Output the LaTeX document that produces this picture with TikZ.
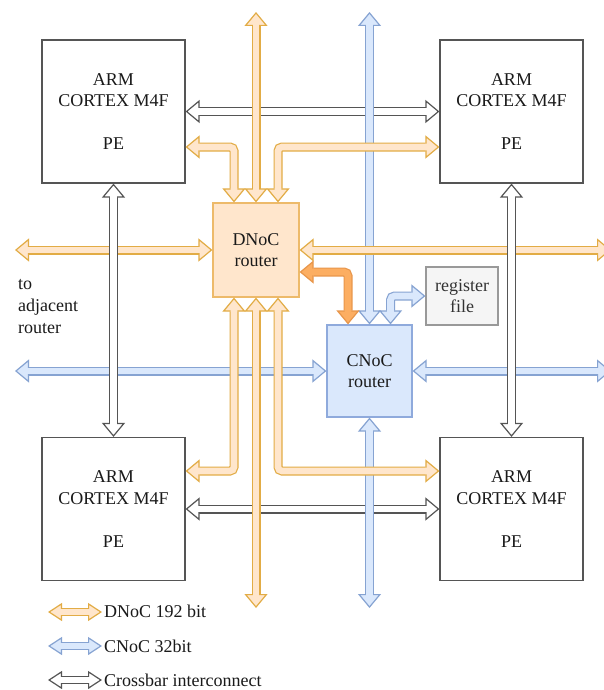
\documentclass[tikz,border=0pt]{standalone}
\usepackage{fontspec}
\setmainfont{Liberation Serif}
\usetikzlibrary{arrows.meta,calc}
\definecolor{ofill}{HTML}{FFE6CC}
\definecolor{oborder}{HTML}{E2AC45}
\definecolor{oboxb}{HTML}{EDBA6A}
\definecolor{bfill}{HTML}{DAE8FC}
\definecolor{bborder}{HTML}{86A3D2}
\definecolor{bboxb}{HTML}{8FAADC}
\definecolor{dfill}{HTML}{FCAE62}
\definecolor{dborder}{HTML}{E8964A}
\definecolor{xborder}{HTML}{555555}
\definecolor{pegray}{HTML}{555555}
\definecolor{regfill}{HTML}{F5F5F5}
\definecolor{regb}{HTML}{999999}
\definecolor{regtext}{HTML}{333333}
\definecolor{textc}{HTML}{1A1A1A}
\tikzset{
  flexbig/.style 2 args={line width=9pt, draw=#1, rounded corners=4pt,
    {Triangle[length=14pt,width=23pt,line width=1.2pt,fill=#2]}-{Triangle[length=14pt,width=23pt,line width=1.2pt,fill=#2]},
    postaction={draw=#2, line width=6.6pt, shorten <=12pt, shorten >=12pt, arrows=-}},
  flexsmall/.style 2 args={line width=8pt, draw=#1,
    {Triangle[length=14pt,width=18pt,line width=1.2pt,fill=#2]}-{Triangle[length=14pt,width=18pt,line width=1.2pt,fill=#2]},
    postaction={draw=#2, line width=5.6pt, shorten <=12pt, shorten >=12pt, arrows=-}},
  pebox/.style={draw=pegray, line width=1.2pt, fill=white, minimum width=143pt, minimum height=143pt, align=center, inner sep=0pt, text=textc},
  router/.style={line width=1.2pt, align=center, inner sep=0pt, text=textc},
  legtext/.style={anchor=base west, inner sep=0pt, text=textc},
}
\begin{document}
\begin{tikzpicture}[x=1pt,y=-1pt,font=\fontsize{18}{21.5}\selectfont]
\useasboundingbox[fill=white] (0,0) rectangle (603,690);

% nodes
\node[pebox] (pe1) at (113.5,111.5) {ARM\\CORTEX M4F\\[21.5pt]PE};
\node[pebox] (pe2) at (511.5,111.5) {ARM\\CORTEX M4F\\[21.5pt]PE};
\node[pebox] (pe3) at (113.5,509) {ARM\\CORTEX M4F\\[21.5pt]PE};
\node[pebox] (pe4) at (511.5,509) {ARM\\CORTEX M4F\\[21.5pt]PE};
\node[router, fill=ofill, draw=oboxb, minimum width=86pt, minimum height=94pt] (dnoc) at (256,250) {DNoC\\router};
\node[router, fill=bfill, draw=bboxb, minimum width=85pt, minimum height=92pt] (cnoc) at (369.5,371) {CNoC\\router};
\node[router, fill=regfill, draw=regb, text=regtext, minimum width=72pt, minimum height=58pt] (reg) at (462,296) {register\\file};
\node[anchor=north west, align=left, inner sep=0pt, text=textc, font=\fontsize{18}{22}\selectfont] (adj) at (18,279) {to\\adjacent\\router};

% free ends
\coordinate (oTop) at (256,12);
\coordinate (oBot) at (256,608);
\coordinate (oLeft) at (15,250);
\coordinate (oRight) at (611,250);
\coordinate (bTop) at (369.5,12);
\coordinate (bBot) at (369.5,608);
\coordinate (bLeft) at (15,371);
\coordinate (bRight) at (611,371);

% crossbar horizontals
\draw[flexbig={xborder}{white}] (pe1.east) -- (pe2.west);
\draw[flexbig={xborder}{white}] (pe3.east) -- (pe4.west);

% CNoC (blue)
\draw[flexbig={bborder}{bfill}] (cnoc.north) -- (bTop);
\draw[flexbig={bborder}{bfill}] (cnoc.south) -- (bBot);
\draw[flexbig={bborder}{bfill}] (bLeft) -- (cnoc.west);
\draw[flexbig={bborder}{bfill}] (cnoc.east) -- (bRight);
\draw[flexbig={bborder}{bfill}] (reg.west) -| ([xshift=21pt]cnoc.north);

% DNoC (orange)
\draw[flexbig={oborder}{ofill}] (dnoc.north) -- (oTop);
\draw[flexbig={oborder}{ofill}] ([xshift=-22pt]dnoc.north) |- ([yshift=-35.5pt]pe1.east);
\draw[flexbig={oborder}{ofill}] ([xshift=22pt]dnoc.north) |- ([yshift=-35.5pt]pe2.west);
\draw[flexbig={oborder}{ofill}] (oLeft) -- (dnoc.west);
\draw[flexbig={oborder}{ofill}] (dnoc.east) -- (oRight);
\draw[flexbig={oborder}{ofill}] ([xshift=-22pt]dnoc.south) |- ([yshift=38pt]pe3.east);
\draw[flexbig={oborder}{ofill}] (dnoc.south) -- (oBot);
\draw[flexbig={oborder}{ofill}] ([xshift=22pt]dnoc.south) |- ([yshift=38pt]pe4.west);
\draw[flexbig={dborder}{dfill}] ([yshift=-22pt]dnoc.east) -| ([xshift=-21.5pt]cnoc.north);

% crossbar verticals
\draw[flexbig={xborder}{white}] (pe1.south) -- (pe3.north);
\draw[flexbig={xborder}{white}] (pe2.south) -- (pe4.north);

% legend
\coordinate (l1a) at (48,612);
\coordinate (l1b) at (102,612);
\coordinate (l2a) at (48,646);
\coordinate (l2b) at (102,646);
\coordinate (l3a) at (48,680);
\coordinate (l3b) at (102,680);
\draw[flexsmall={oborder}{ofill}] (l1a) -- (l1b);
\draw[flexsmall={bborder}{bfill}] (l2a) -- (l2b);
\draw[flexsmall={xborder}{white}] (l3a) -- (l3b);
\node[legtext] (t1) at (104,617.5) {DNoC 192 bit};
\node[legtext] (t2) at (104,652) {CNoC 32bit};
\node[legtext] (t3) at (104,686.5) {Crossbar interconnect};
\end{tikzpicture}
\end{document}
